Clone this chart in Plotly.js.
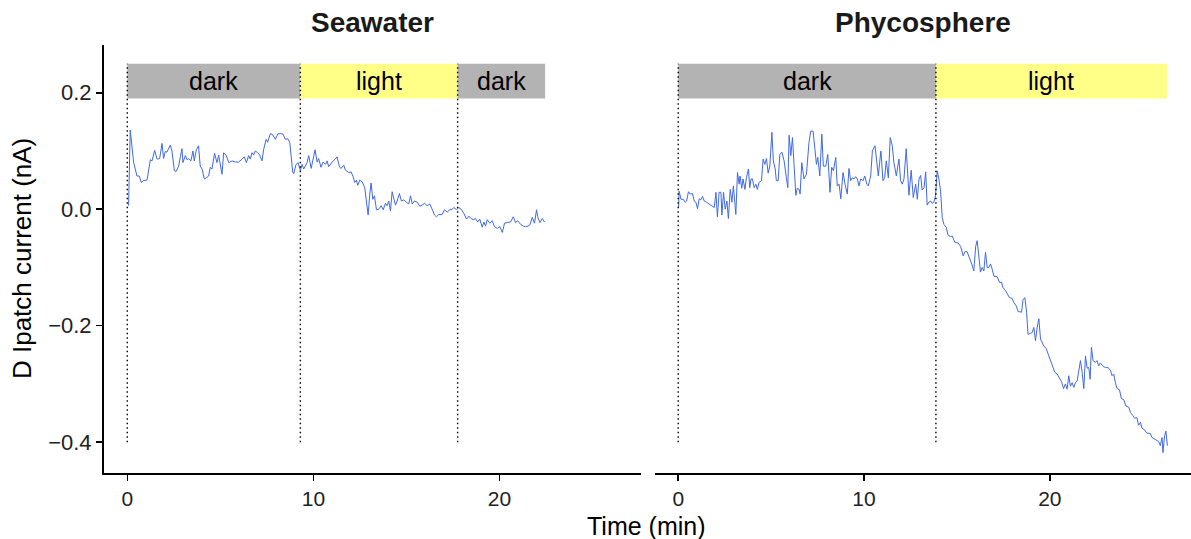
<!DOCTYPE html>
<html>
<head>
<meta charset="utf-8">
<script src="https://cdn.plot.ly/plotly-3.0.1.min.js"></script>
<style>html,body{margin:0;padding:0;background:#fff;}#chart{width:1191px;height:539px;}</style>
</head>
<body>
<div id="chart"></div>
<script>
// ---- Data ----
const panelTitles = ["Seawater", "Phycosphere"];

const seaT = [0.07,0.16,0.34,0.52,0.65,0.75,0.86,1.06,1.24,1.33,1.47,1.60,1.74,1.87,1.95,2.04,2.13,2.31,2.40,2.53,2.63,2.76,2.85,2.94,2.99,3.12,3.21,3.30,3.42,3.53,3.60,3.71,3.83,3.92,4.02,4.14,4.25,4.37,4.46,4.55,4.69,4.82,4.91,5.00,5.09,5.18,5.32,5.45,5.63,5.81,5.98,6.17,6.29,6.40,6.52,6.61,6.70,6.79,6.88,7.01,7.11,7.24,7.33,7.46,7.54,7.69,7.83,7.96,8.08,8.23,8.37,8.49,8.62,8.73,8.80,8.89,8.94,9.07,9.18,9.30,9.39,9.48,9.66,9.75,9.88,9.98,10.09,10.20,10.28,10.41,10.52,10.65,10.74,10.82,10.95,11.06,11.18,11.27,11.41,11.49,11.63,11.72,11.90,12.03,12.13,12.22,12.31,12.38,12.49,12.62,12.76,12.85,12.94,13.03,13.10,13.19,13.28,13.39,13.51,13.64,13.75,13.87,13.96,14.05,14.14,14.23,14.32,14.41,14.50,14.62,14.73,14.85,15.00,15.12,15.22,15.31,15.43,15.58,15.72,15.84,15.98,16.11,16.25,16.38,16.51,16.61,16.74,16.92,17.04,17.19,17.33,17.46,17.54,17.69,17.81,17.94,18.08,18.23,18.35,18.48,18.59,18.71,18.83,18.94,19.07,19.16,19.25,19.34,19.48,19.61,19.73,19.88,20.02,20.15,20.27,20.41,20.59,20.74,20.86,20.98,21.13,21.27,21.40,21.52,21.63,21.76,21.88,21.99,22.06,22.17,22.30,22.42];
const seaV = [0.006,0.136,0.081,0.057,0.057,0.046,0.049,0.050,0.085,0.083,0.101,0.086,0.087,0.113,0.087,0.099,0.098,0.110,0.100,0.066,0.065,0.074,0.090,0.104,0.080,0.092,0.085,0.087,0.083,0.100,0.083,0.102,0.109,0.074,0.069,0.052,0.054,0.057,0.072,0.069,0.096,0.080,0.093,0.074,0.060,0.097,0.092,0.080,0.083,0.081,0.081,0.086,0.090,0.080,0.092,0.086,0.097,0.093,0.100,0.097,0.093,0.083,0.103,0.120,0.115,0.130,0.127,0.120,0.129,0.130,0.129,0.120,0.121,0.115,0.086,0.064,0.061,0.077,0.080,0.066,0.077,0.069,0.080,0.092,0.070,0.086,0.102,0.081,0.087,0.072,0.081,0.077,0.083,0.073,0.079,0.083,0.086,0.090,0.072,0.070,0.076,0.067,0.063,0.064,0.056,0.046,0.050,0.041,0.050,0.047,0.037,0.017,-0.010,0.026,0.045,0.017,0.023,-0.001,0.000,0.006,-0.001,0.010,0.006,0.014,-0.003,0.030,0.020,0.007,0.014,0.027,0.014,0.016,0.012,0.009,0.023,0.009,0.014,0.012,0.005,0.007,0.010,0.006,0.009,0.000,-0.010,-0.013,-0.009,-0.009,-0.001,-0.005,-0.001,0.000,0.003,-0.001,0.003,0.000,-0.007,-0.017,-0.012,-0.016,-0.018,-0.016,-0.022,-0.017,-0.031,-0.022,-0.029,-0.018,-0.024,-0.020,-0.030,-0.033,-0.030,-0.040,-0.024,-0.023,-0.022,-0.013,-0.023,-0.020,-0.026,-0.029,-0.030,-0.029,-0.027,-0.014,-0.024,-0.001,-0.014,-0.023,-0.016,-0.022];

const phyT = [0.02,0.05,0.15,0.27,0.38,0.45,0.55,0.65,0.77,0.86,0.95,1.04,1.13,1.22,1.31,1.40,1.52,1.67,1.81,1.94,2.03,2.11,2.20,2.30,2.35,2.44,2.53,2.62,2.70,2.80,2.89,2.97,3.10,3.19,3.28,3.33,3.42,3.49,3.59,3.67,3.78,3.85,3.92,3.99,4.09,4.18,4.26,4.35,4.48,4.57,4.66,4.75,4.84,4.93,5.04,5.12,5.22,5.28,5.38,5.47,5.58,5.70,5.82,5.90,5.97,6.06,6.15,6.24,6.33,6.41,6.51,6.56,6.65,6.77,6.90,7.04,7.13,7.26,7.37,7.44,7.51,7.62,7.73,7.81,7.94,8.05,8.17,8.26,8.35,8.48,8.56,8.66,8.75,8.87,8.98,9.10,9.19,9.28,9.37,9.46,9.55,9.64,9.73,9.82,9.95,10.04,10.15,10.23,10.36,10.45,10.59,10.66,10.77,10.84,10.91,11.02,11.11,11.20,11.31,11.41,11.52,11.61,11.74,11.81,11.88,11.97,12.06,12.15,12.27,12.42,12.54,12.65,12.78,12.87,12.96,13.05,13.13,13.23,13.32,13.40,13.49,13.59,13.67,13.76,13.85,13.94,14.03,14.12,14.21,14.30,14.42,14.53,14.66,14.75,14.89,15.07,15.20,15.34,15.43,15.55,15.68,15.82,15.91,16.01,16.09,16.18,16.27,16.36,16.45,16.54,16.63,16.72,16.81,16.90,16.99,17.17,17.30,17.40,17.47,17.62,17.74,17.83,17.97,18.06,18.19,18.30,18.39,18.48,18.56,18.66,18.75,18.83,18.96,19.05,19.14,19.23,19.32,19.41,19.50,19.59,19.68,19.80,19.91,19.98,20.09,20.16,20.27,20.39,20.52,20.63,20.74,20.84,20.93,21.02,21.11,21.20,21.29,21.38,21.47,21.56,21.65,21.74,21.83,21.92,22.01,22.10,22.17,22.24,22.33,22.46,22.54,22.63,22.72,22.85,22.99,23.13,23.26,23.35,23.44,23.53,23.62,23.75,23.85,23.98,24.10,24.25,24.34,24.46,24.57,24.69,24.78,24.88,24.96,25.11,25.18,25.28,25.41,25.50,25.65,25.77,25.86,25.95,26.04,26.09,26.18,26.25,26.33];
const phyV = [0.003,0.031,0.017,0.017,0.012,0.014,0.030,0.026,0.027,0.014,0.012,0.001,0.018,0.016,0.022,0.014,0.012,0.009,0.005,0.003,0.029,-0.013,0.029,0.029,-0.010,0.029,0.000,0.014,-0.016,0.034,0.012,0.040,-0.009,0.063,0.043,0.057,0.036,0.052,0.034,0.054,0.069,0.037,0.052,0.052,0.037,0.043,0.034,0.046,0.049,0.086,0.077,0.087,0.062,0.074,0.132,0.083,0.069,0.049,0.049,0.094,0.098,0.083,0.054,0.037,0.127,0.092,0.123,0.069,0.024,0.036,0.034,0.026,0.080,0.052,0.060,0.115,0.134,0.134,0.103,0.077,0.089,0.057,0.129,0.074,0.074,0.094,0.029,0.072,0.066,0.089,0.040,0.043,0.018,0.063,0.043,0.026,0.070,0.049,0.054,0.052,0.056,0.052,0.040,0.052,0.049,0.057,0.043,0.040,0.057,0.100,0.109,0.089,0.057,0.080,0.100,0.049,0.054,0.083,0.054,0.123,0.109,0.080,0.057,0.072,0.086,0.049,0.043,0.052,0.104,0.024,0.067,0.020,0.043,0.017,0.052,0.058,0.033,0.037,0.064,0.007,0.012,0.014,0.010,0.012,0.023,0.066,0.052,0.031,-0.014,-0.026,-0.031,-0.045,-0.047,-0.046,-0.057,-0.058,-0.064,-0.080,-0.073,-0.073,-0.083,-0.096,-0.106,-0.064,-0.054,-0.080,-0.108,-0.100,-0.106,-0.074,-0.100,-0.100,-0.094,-0.103,-0.115,-0.116,-0.126,-0.125,-0.134,-0.140,-0.146,-0.152,-0.153,-0.160,-0.166,-0.176,-0.176,-0.177,-0.155,-0.152,-0.177,-0.215,-0.213,-0.212,-0.203,-0.226,-0.203,-0.188,-0.223,-0.228,-0.235,-0.239,-0.249,-0.256,-0.264,-0.273,-0.280,-0.283,-0.291,-0.296,-0.308,-0.300,-0.309,-0.286,-0.304,-0.298,-0.306,-0.298,-0.295,-0.280,-0.260,-0.280,-0.308,-0.252,-0.273,-0.272,-0.292,-0.237,-0.260,-0.263,-0.260,-0.269,-0.264,-0.269,-0.272,-0.272,-0.276,-0.286,-0.283,-0.298,-0.308,-0.310,-0.325,-0.327,-0.338,-0.340,-0.349,-0.354,-0.359,-0.358,-0.371,-0.366,-0.376,-0.379,-0.383,-0.385,-0.385,-0.392,-0.395,-0.396,-0.399,-0.406,-0.392,-0.418,-0.389,-0.381,-0.406];

// Light/dark phases
const seaPhaseStart = [0, 9.3, 17.75];
const seaPhaseEnd   = [9.3, 17.75, 22.45];
const seaPhaseLabel = ["dark", "light", "dark"];
const phyPhaseStart = [0, 13.87];
const phyPhaseEnd   = [13.87, 26.3];
const phyPhaseLabel = ["dark", "light"];

const bandBottom = 0.19, bandTop = 0.25, dotBottom = -0.4;
const xTicks = [0, 10, 20];
const yTicks = [-0.4, -0.2, 0.0, 0.2];

// ---- Styles ----
const FONT = "Liberation Sans, Arial, Helvetica, sans-serif";
const lineColor = "#4169e1";
const phaseColor = {dark: "#b3b3b3", light: "#ffff88"};

const traces = [
  {x: seaT, y: seaV, xaxis: "x", yaxis: "y", type: "scatter", mode: "lines",
   line: {color: lineColor, width: 1}, hoverinfo: "skip"},
  {x: phyT, y: phyV, xaxis: "x2", yaxis: "y", type: "scatter", mode: "lines",
   line: {color: lineColor, width: 1}, hoverinfo: "skip"}
];

const shapes = [], annotations = [];
function addPhases(xref, starts, ends, labels) {
  for (let i = 0; i < starts.length; i++) {
    shapes.push({type: "rect", xref: xref, yref: "y", x0: starts[i], x1: ends[i],
      y0: bandBottom, y1: bandTop, fillcolor: phaseColor[labels[i]], line: {width: 0}, layer: "below"});
    shapes.push({type: "line", xref: xref, yref: "y", x0: starts[i], x1: starts[i],
      y0: dotBottom, y1: bandTop, line: {color: "black", width: 1.4, dash: "1.5px,3px"}});
    annotations.push({xref: xref, yref: "y", x: (starts[i] + ends[i]) / 2, y: (bandBottom + bandTop) / 2,
      text: labels[i], showarrow: false, xanchor: "center", yanchor: "middle",
      font: {family: FONT, size: 25, color: "black"}});
  }
}
addPhases("x", seaPhaseStart, seaPhaseEnd, seaPhaseLabel);
addPhases("x2", phyPhaseStart, phyPhaseEnd, phyPhaseLabel);

annotations.push({xref: "paper", yref: "paper", x: 0.247, y: 1.0537, text: "<b>" + panelTitles[0] + "</b>",
  showarrow: false, xanchor: "center", yanchor: "middle", font: {family: FONT, size: 28, color: "#1a1a1a"}});
annotations.push({xref: "paper", yref: "paper", x: 0.7535, y: 1.0537, text: "<b>" + panelTitles[1] + "</b>",
  showarrow: false, xanchor: "center", yanchor: "middle", font: {family: FONT, size: 28, color: "#1a1a1a"}});
annotations.push({xref: "paper", yref: "paper", x: -0.0754, y: 0.5, text: "D Ipatch current (nA)", textangle: -90,
  showarrow: false, xanchor: "center", yanchor: "middle", font: {family: FONT, size: 26, color: "black"}});
annotations.push({xref: "paper", yref: "paper", x: 0.4995, y: -0.123, text: "Time (min)",
  showarrow: false, xanchor: "center", yanchor: "middle", font: {family: FONT, size: 25, color: "black"}});

const xCommon = {
  range: [-1.25, 27.6], showgrid: false, zeroline: false, showline: true, linecolor: "black", linewidth: 2,
  ticks: "outside", ticklen: 6, tickwidth: 1.5, tickcolor: "black", tickvals: xTicks,
  tickfont: {family: FONT, size: 21, color: "#222"}, anchor: "y", fixedrange: true
};

const layout = {
  width: 1191, height: 539, margin: {l: 104, r: 0, t: 45, b: 66},
  paper_bgcolor: "white", plot_bgcolor: "white", showlegend: false,
  xaxis: Object.assign({}, xCommon, {domain: [0, 0.494]}),
  xaxis2: Object.assign({}, xCommon, {domain: [0.5069, 1]}),
  yaxis: {
    range: [-0.453, 0.282], showgrid: false, zeroline: false, showline: true, linecolor: "black", linewidth: 2,
    ticks: "outside", ticklen: 6, tickwidth: 1.5, tickcolor: "black", tickvals: yTicks, tickformat: ".1f",
    tickfont: {family: FONT, size: 22, color: "#222"}, anchor: "x", fixedrange: true
  },
  shapes: shapes, annotations: annotations
};

Plotly.newPlot("chart", traces, layout, {staticPlot: true, displayModeBar: false});
</script>
</body>
</html>
